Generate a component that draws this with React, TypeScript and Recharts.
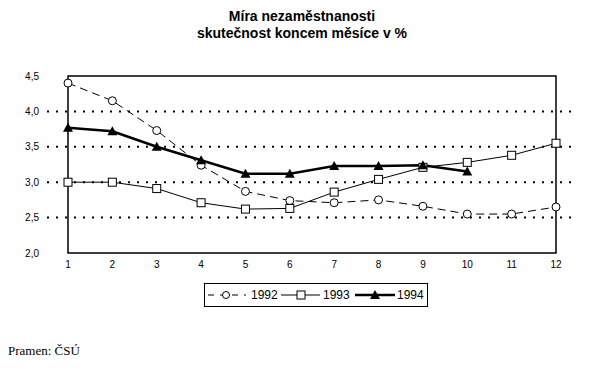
import { LineChart, Line, XAxis, YAxis, CartesianGrid, Legend, ReferenceArea } from "recharts";

const months = ["1", "2", "3", "4", "5", "6", "7", "8", "9", "10", "11", "12"];
const rate1992 = [4.4, 4.15, 3.73, 3.24, 2.87, 2.74, 2.71, 2.75, 2.66, 2.55, 2.55, 2.65];
const rate1993 = [3.0, 3.0, 2.91, 2.71, 2.62, 2.63, 2.86, 3.04, 3.21, 3.28, 3.38, 3.55];
const rate1994 = [3.77, 3.72, 3.5, 3.31, 3.12, 3.12, 3.23, 3.23, 3.24, 3.15, null, null];
const yTicks = [2, 2.5, 3, 3.5, 4, 4.5];
const gridValues = [2.5, 3, 3.5, 4];

const data = months.map((m, i) => ({
  month: m,
  y1992: rate1992[i],
  y1993: rate1993[i],
  y1994: rate1994[i],
}));

const fmt = (v: number) => v.toFixed(1).replace(".", ",");

const Circle = (props: any) => {
  const { cx, cy, key } = props;
  if (cx == null || cy == null) return <g key={key} />;
  return <circle key={key} cx={cx} cy={cy} r={4} fill="#fff" stroke="#000" strokeWidth={1} />;
};

const Square = (props: any) => {
  const { cx, cy, key } = props;
  if (cx == null || cy == null) return <g key={key} />;
  return <rect key={key} x={cx - 4} y={cy - 4} width={8} height={8} fill="#fff" stroke="#000" strokeWidth={1} />;
};

const Triangle = (props: any) => {
  const { cx, cy, key } = props;
  if (cx == null || cy == null) return <g key={key} />;
  return <polygon key={key} points={`${cx},${cy - 5} ${cx - 5},${cy + 4} ${cx + 5},${cy + 4}`} fill="#000" />;
};

const LegendBox = () => (
  <svg width={224} height={24} style={{ display: "block" }}>
    <rect x={0.5} y={0.5} width={223} height={23} fill="#fff" stroke="#000" strokeWidth={1} />
    <g fontFamily="Arial, 'Liberation Sans', sans-serif" fontSize={12} fill="#000">
      <line x1={4} x2={42} y1={12} y2={12} stroke="#000" strokeDasharray="6 6" />
      <circle cx={22} cy={12} r={3.5} fill="#fff" stroke="#000" />
      <text x={47} y={16}>1992</text>
      <line x1={77} x2={116} y1={12} y2={12} stroke="#000" />
      <rect x={93} y={8} width={8} height={8} fill="#fff" stroke="#000" />
      <text x={119} y={16}>1993</text>
      <line x1={151} x2={191} y1={12} y2={12} stroke="#000" strokeWidth={2.5} />
      <polygon points="171,7 166,16 176,16" fill="#000" />
      <text x={193} y={16}>1994</text>
    </g>
  </svg>
);

export default function App() {
  return (
    <div style={{ position: "absolute", left: 0, top: 0, width: 598, height: 374, background: "#fff" }}>
      <div
        style={{
          position: "absolute",
          left: 0,
          top: 8,
          width: 604,
          textAlign: "center",
          fontFamily: "Arial, 'Liberation Sans', sans-serif",
          fontWeight: "bold",
          fontSize: 14,
          lineHeight: "17px",
        }}
      >
        Míra nezaměstnanosti
        <br />
        skutečnost koncem měsíce v %
      </div>
      <LineChart
        width={598}
        height={374}
        data={data}
        margin={{ top: 76, right: 20, left: 7, bottom: 91 }}
        style={{ fontFamily: "Arial, 'Liberation Sans', sans-serif" }}
      >
        <CartesianGrid
          vertical={false}
          horizontalValues={gridValues}
          stroke="#000"
          strokeDasharray="2 7"
          strokeWidth={2}
        />
        <XAxis
          dataKey="month"
          padding={{ left: 21, right: 22 }}
          axisLine={false}
          tickLine={false}
          tick={{ fill: "#000", fontSize: 10 }}
          height={30}
        />
        <YAxis
          width={40}
          domain={[2, 4.5]}
          ticks={yTicks}
          tickFormatter={fmt}
          axisLine={false}
          tickLine={false}
          tick={{ fill: "#000", fontSize: 10 }}
        />
        <ReferenceArea y1={2} y2={4.5} fill="none" stroke="#000" strokeWidth={1.5} ifOverflow="visible" />
        <Line
          dataKey="y1992"
          stroke="#000"
          strokeWidth={1}
          strokeDasharray="8 5"
          dot={Circle}
          isAnimationActive={false}
        />
        <Line dataKey="y1993" stroke="#000" strokeWidth={1} dot={Square} isAnimationActive={false} />
        <Line dataKey="y1994" stroke="#000" strokeWidth={2.5} dot={Triangle} isAnimationActive={false} />
        <Legend
          layout="horizontal"
          verticalAlign="middle"
          content={() => <LegendBox />}
          wrapperStyle={{ position: "absolute", left: 204, top: 283, width: 224 }}
        />
      </LineChart>
      <div
        style={{
          position: "absolute",
          left: 8,
          top: 343,
          fontFamily: "'Liberation Serif', 'Times New Roman', serif",
          fontSize: 13,
        }}
      >
        Pramen: ČSÚ
      </div>
    </div>
  );
}
